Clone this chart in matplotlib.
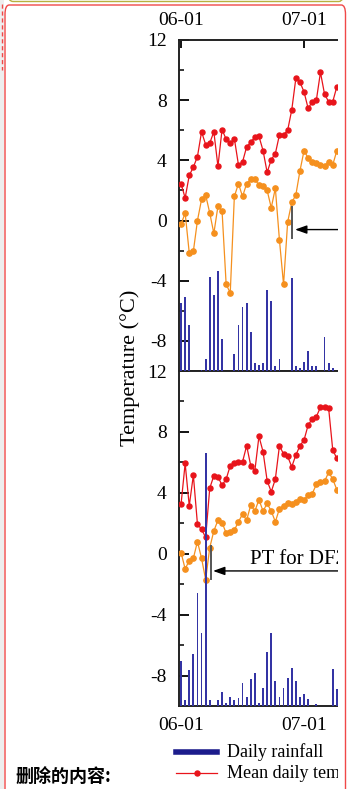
import matplotlib
matplotlib.use("Agg")
import matplotlib.pyplot as plt
from matplotlib.patches import Rectangle, FancyBboxPatch
from matplotlib.lines import Line2D
import numpy as np

plt.rcParams['font.family'] = ['Liberation Serif', 'DejaVu Serif']
plt.rcParams['axes.unicode_minus'] = False

# ---------------- data (days since 06-01) ----------------
days = list(range(39))
tick_days = [0, 30]
tick_labels = ["06-01", "07-01"]
y_ticks = [12, 8, 4, 0, -4, -8]

top_air = [2.45, 1.5, 3.0, 3.55, 4.25, 5.9, 5.05, 5.15, 5.9, 3.6, 6.05, 5.4, 5.15,
           5.45, 3.7, 3.9, 4.9, 5.2, 5.55, 5.6, 4.65, 3.2, 4.05, 4.45, 5.7, 5.7,
           6.0, 7.35, 9.45, 9.2, 8.55, 7.45, 7.9, 8.0, 9.85, 8.4, 7.9, 7.9, 8.9]
top_ground = [-0.25, 0.5, -2.15, -2.05, 0.0, 1.4, 1.7, 0.5, -0.85, 0.95, 0.65, -4.25,
              -4.8, 1.6, 2.45, 1.6, 2.45, 2.75, 2.75, 2.35, 2.3, 2.0, 0.85, 2.15,
              -1.3, -4.25, -0.1, 1.2, 1.7, 3.3, 4.65, 4.15, 3.9, 3.8, 3.7, 3.6,
              3.9, 3.7, 4.65]
top_rain = [6.2, 6.7, 4.2, 0, 0, 0.1, 1.1, 8.5, 6.9, 9.1, 2.9, 0, 0, 1.5, 4.2, 5.8,
            6.2, 3.5, 0.7, 0.55, 0.7, 7.3, 6.3, 0.45, 1.05, 0, 0, 8.4, 0.45, 0.25,
            0.8, 1.85, 0.45, 0.45, 0, 3.1, 0.7, 0.25, 0]

bot_air = [3.25, 5.93, 3.14, 5.16, 1.94, 1.61, 1.07, 4.31, 5.12, 5.05, 4.5, 4.9, 5.78,
           5.93, 6.0, 6.04, 7.09, 5.78, 5.45, 7.71, 6.7, 4.79, 4.07, 4.9, 7.09, 6.55,
           6.39, 5.71, 6.48, 7.09, 7.47, 8.45, 8.85, 9.0, 9.62, 9.66, 9.55, 6.81, 6.26]
bot_ground = [0.08, -1.0, -0.45, -0.3, 0.8, -0.3, -1.7, 0.4, 1.5, 2.2, 2.05, 1.35,
              1.45, 1.55, 2.1, 2.6, 2.2, 3.2, 2.8, 3.55, 2.8, 3.3, 2.8, 2.1, 2.95,
              3.15, 3.3, 3.25, 3.4, 3.6, 3.55, 3.85, 3.95, 4.55, 4.7, 4.75, 5.35,
              4.9, 4.2]
bot_rain = [4.0, 0.5, 3.2, 4.7, 10.1, 6.5, 22.7, 0.5, 0, 0.55, 1.25, 0.25, 0.85, 0.55,
            0.75, 2.1, 0.85, 2.4, 3.0, 0.25, 1.65, 4.8, 6.5, 2.2, 0.85, 1.6, 2.5, 3.4,
            2.2, 0.8, 1.1, 0.6, 0, 0.15, 0, 0, 0, 3.3, 1.5]

legend_labels = ["Daily rainfall", "Mean daily temperature"]

# ---------------- style ----------------
RED = '#e8141b'
ORANGE = '#f5901e'
NAVY = '#3434a4'
W, H = 348, 789
fig = plt.figure(figsize=(W / 100, H / 100), dpi=100)
fig.patch.set_facecolor('white')

px_per_day = 4.1
x0 = -0.5
x1 = 45
ax_left = 179
ax_w = (x1 - x0) * px_per_day


def fbox(left, top, width, height):
    return [left / W, 1 - (top + height) / H, width / W, height / H]


ax_top = fig.add_axes(fbox(ax_left, 40, ax_w, 331))
ax_bot = fig.add_axes(fbox(ax_left, 371, ax_w, 335))

panels = [(ax_top, top_air, top_ground, top_rain, 'top'),
          (ax_bot, bot_air, bot_ground, bot_rain, 'bottom')]

for ax, air, ground, rain, pos in panels:
    rax = ax.twinx()
    rax.bar(days, rain, width=0.42, color=NAVY, zorder=3)
    rax.set_ylim(0, 30)
    rax.set_xlim(x0, x1)
    rax.axis('off')
    ax.plot(days, air, color=RED, lw=0.9, marker='o', ms=3.6, mec=RED, mfc=RED, zorder=4)
    ax.plot(days, ground, color=ORANGE, lw=0.9, marker='o', ms=3.8, mec=ORANGE,
            mfc=ORANGE, zorder=4)
    ax.set_xlim(x0, x1)
    ax.set_ylim(-10, 12)
    ax.set_yticks(y_ticks)
    ax.set_yticklabels([str(v) for v in y_ticks])
    ax.set_yticks([10, 6, 2, -2, -6], minor=True)
    ax.tick_params(axis='y', which='major', direction='in', length=7, width=1.3,
                   labelsize=14, pad=9, right=False)
    ax.tick_params(axis='y', which='minor', direction='in', length=3.5, width=1.1,
                   right=False)
    ax.set_xticks(tick_days)
    ax.set_xticklabels(tick_labels)
    if pos == 'top':
        ax.tick_params(axis='x', which='major', direction='in', length=6, width=1.3,
                       labelsize=14, pad=8, top=True, labeltop=True, bottom=False,
                       labelbottom=False)
    else:
        ax.tick_params(axis='x', which='major', direction='in', length=6, width=1.3,
                       labelsize=14, pad=8, top=False, labeltop=False, bottom=True,
                       labelbottom=True)
    for s in ['left', 'top', 'bottom']:
        ax.spines[s].set_linewidth(1.4)
        ax.spines[s].set_color('#222222')
    ax.spines['right'].set_visible(False)

# PT annotations
ax_top.plot([27.1, 27.1], [0.87, -1.13], color='#555555', lw=1.4, zorder=5)
ax_top.annotate('', xy=(27.8, -0.6), xytext=(45, -0.6),
                arrowprops=dict(arrowstyle='-|>,head_length=0.7,head_width=0.25',
                                color='black', lw=1.0, shrinkA=0, shrinkB=0))
ax_bot.plot([7.35, 7.35], [0.5, -1.67], color='#555555', lw=1.4, zorder=5)
ax_bot.annotate('', xy=(7.8, -1.13), xytext=(45, -1.13),
                arrowprops=dict(arrowstyle='-|>,head_length=0.7,head_width=0.25',
                                color='black', lw=1.0, shrinkA=0, shrinkB=0))
ax_bot.text(16.8, -0.35, 'PT for DF2', fontsize=15, va='center', ha='left')

# y label
fig.text(130 / W, 1 - 368 / H, 'Temperature (\u00b0C)', rotation=90, ha='center',
         va='center', fontsize=16)

# legend (figure level)
fig.add_artist(Line2D([176 / W, 217 / W], [1 - 752 / H, 1 - 752 / H],
                      color='#1c1c8c', lw=4, transform=fig.transFigure))
fig.text(227 / W, 1 - 752 / H, legend_labels[0], fontsize=13, va='center', ha='left')
fig.add_artist(Line2D([176 / W, 217 / W], [1 - 773 / H, 1 - 773 / H],
                      color=RED, lw=0.9, transform=fig.transFigure))
fig.add_artist(Line2D([196.5 / W], [1 - 773 / H], color=RED, marker='o', ms=3.6,
                      transform=fig.transFigure))
fig.text(227 / W, 1 - 773 / H, legend_labels[1], fontsize=13, va='center', ha='left')

# ---------------- page decorations ----------------
# mask the cropped right side
fig.add_artist(Rectangle((338 / W, 0), 1 - 338 / W, 1, transform=fig.transFigure,
                         facecolor='white', edgecolor='none', zorder=20))
# gray left margin strip
fig.add_artist(Rectangle((0, 0), 4 / W, 1, transform=fig.transFigure,
                         facecolor='#eeeeee', edgecolor='none', zorder=21))
# olive comment box bottom edge at top
fig.add_artist(FancyBboxPatch((8 / W, 1 - 1.5 / H), 336 / W, 20 / H,
                              boxstyle='round,pad=0,rounding_size=0.015',
                              transform=fig.transFigure, facecolor='none',
                              edgecolor='#b8b040', lw=1.0, zorder=22))
# red rounded frame
fig.add_artist(FancyBboxPatch((5 / W, -0.05), 340.5 / W, 1.05 - 5 / H,
                              boxstyle='round,pad=0,rounding_size=0.012',
                              transform=fig.transFigure, facecolor='none',
                              edgecolor='#f04848', lw=1.0, zorder=22))
# dashed red connector on the left
fig.add_artist(Line2D([1.8 / W, 1.8 / W], [1 - 4 / H, 1 - 70 / H], color='#f04848',
                      lw=1.0, ls=(0, (3, 2)), transform=fig.transFigure, zorder=23))

fig.text(15 / W, 1 - 777 / H, '删除的内容:', fontfamily=['Noto Sans CJK SC', 'DejaVu Sans'],
         fontweight='bold', fontsize=13, va='center', ha='left', zorder=24)

fig.savefig('out.png', dpi=100)
